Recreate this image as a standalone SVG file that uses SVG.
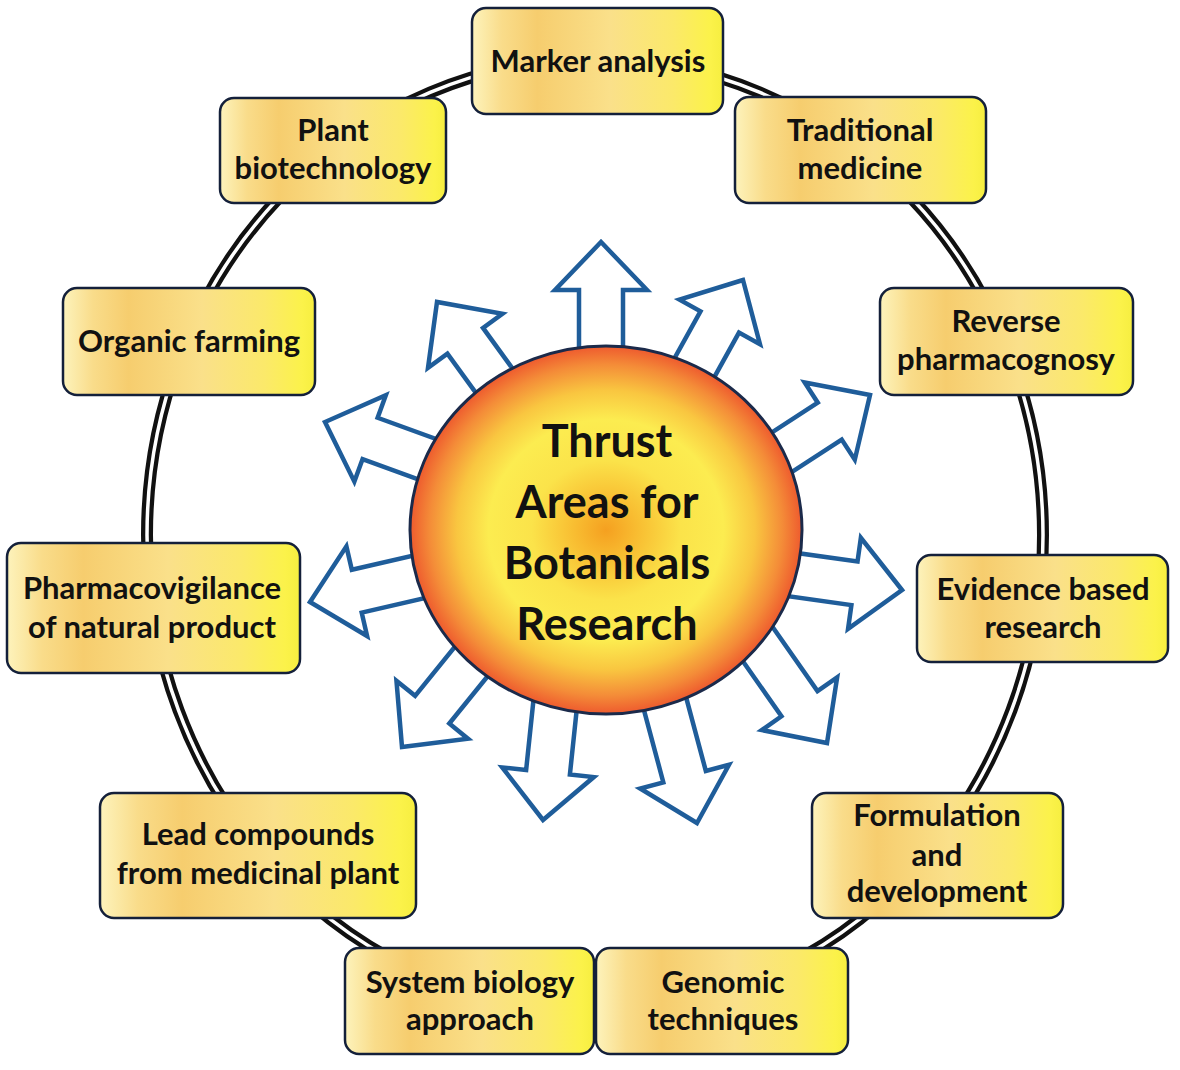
<svg xmlns="http://www.w3.org/2000/svg" xmlns:xlink="http://www.w3.org/1999/xlink" width="1180" height="1070" viewBox="0 0 1180 1070">
<style>
.box{fill:url(#boxg);stroke:#14203a;stroke-width:2.5}
.t{font-family:Lato,"Liberation Sans",sans-serif;font-weight:bold;font-size:31px;fill:#111;text-anchor:middle}
.c{font-family:Lato,"Liberation Sans",sans-serif;font-weight:bold;font-size:45px;fill:#111;text-anchor:middle}
.arr{fill:#fff;stroke:#1f5d9a;stroke-width:4.5;stroke-linejoin:miter}
.ringo{fill:none;stroke:#111;stroke-width:12}
.ringi{fill:none;stroke:#fff;stroke-width:3.5}
</style>
<defs>
<linearGradient id="boxg" x1="0" y1="0" x2="1" y2="0">
<stop offset="0" stop-color="#fdf3bc"/>
<stop offset="0.12" stop-color="#f9dc8a"/>
<stop offset="0.26" stop-color="#f6cd6e"/>
<stop offset="0.55" stop-color="#fae08a"/>
<stop offset="0.8" stop-color="#fbe96a"/>
<stop offset="0.95" stop-color="#fbf24a"/>
<stop offset="1" stop-color="#f6ee40"/>
</linearGradient>
<radialGradient id="sun" cx="0.5" cy="0.5" r="0.5">
<stop offset="0" stop-color="#f5a020"/>
<stop offset="0.15" stop-color="#f8bb30"/>
<stop offset="0.38" stop-color="#fbe34a"/>
<stop offset="0.6" stop-color="#fcec50"/>
<stop offset="0.76" stop-color="#f9c640"/>
<stop offset="0.9" stop-color="#f48c38"/>
<stop offset="1" stop-color="#ee5a2e"/>
</radialGradient>
<polygon id="arrow" class="arr" points="0,0 -48,-46 -48,-22 -200,-22 -200,22 -48,22 -48,46"/>
</defs>
<rect width="1180" height="1070" fill="#fff"/>
<g id="connectors">
<ellipse class="ringo" cx="595" cy="535" rx="448" ry="476"/>
<ellipse class="ringi" cx="595" cy="535" rx="448" ry="476"/>
</g>
<g id="arrows">
<use xlink:href="#arrow" href="#arrow" transform="translate(601 242) rotate(-90)"/>
<use xlink:href="#arrow" href="#arrow" transform="translate(437 302) rotate(-126)"/>
<use xlink:href="#arrow" href="#arrow" transform="translate(325 422) rotate(-160)"/>
<use xlink:href="#arrow" href="#arrow" transform="translate(310 602) rotate(167)"/>
<use xlink:href="#arrow" href="#arrow" transform="translate(402 747) rotate(129)"/>
<use xlink:href="#arrow" href="#arrow" transform="translate(543 820) rotate(96)"/>
<use xlink:href="#arrow" href="#arrow" transform="translate(697 823) rotate(75)"/>
<use xlink:href="#arrow" href="#arrow" transform="translate(827 743) rotate(55)"/>
<use xlink:href="#arrow" href="#arrow" transform="translate(902 590) rotate(8)"/>
<use xlink:href="#arrow" href="#arrow" transform="translate(870 395) rotate(-33)"/>
<use xlink:href="#arrow" href="#arrow" transform="translate(743 280) rotate(-61)"/>
</g>
<g id="center">
<ellipse cx="606" cy="530" rx="196" ry="184" fill="url(#sun)" stroke="#1b2a4a" stroke-width="3"/>
<text class="c" x="607" y="457">Thrust</text>
<text class="c" x="607" y="518">Areas for</text>
<text class="c" x="607" y="579">Botanicals</text>
<text class="c" x="607" y="640">Research</text>
</g>
<g id="marker-analysis">
<rect class="box" x="472" y="8" width="251" height="106" rx="14"/>
<text class="t" x="598" y="72">Marker analysis</text>
</g>
<g id="plant-biotechnology">
<rect class="box" x="220" y="98" width="226" height="105" rx="14"/>
<text class="t" x="333" y="141">Plant</text>
<text class="t" x="333" y="179">biotechnology</text>
</g>
<g id="traditional-medicine">
<rect class="box" x="735" y="97" width="251" height="106" rx="14"/>
<text class="t" x="860" y="141">Traditional</text>
<text class="t" x="860" y="179">medicine</text>
</g>
<g id="organic-farming">
<rect class="box" x="63" y="288" width="252" height="107" rx="14"/>
<text class="t" x="189" y="352">Organic farming</text>
</g>
<g id="reverse-pharmacognosy">
<rect class="box" x="880" y="288" width="253" height="107" rx="14"/>
<text class="t" x="1006" y="332">Reverse</text>
<text class="t" x="1006" y="370">pharmacognosy</text>
</g>
<g id="pharmacovigilance">
<rect class="box" x="7" y="543" width="293" height="130" rx="14"/>
<text class="t" x="152" y="599">Pharmacovigilance</text>
<text class="t" x="152" y="638">of natural product</text>
</g>
<g id="evidence-based-research">
<rect class="box" x="917" y="555" width="251" height="107" rx="14"/>
<text class="t" x="1043" y="600">Evidence based</text>
<text class="t" x="1043" y="638">research</text>
</g>
<g id="lead-compounds">
<rect class="box" x="100" y="793" width="316" height="125" rx="14"/>
<text class="t" x="258" y="845">Lead compounds</text>
<text class="t" x="258" y="884">from medicinal plant</text>
</g>
<g id="formulation-development">
<rect class="box" x="812" y="793" width="251" height="125" rx="14"/>
<text class="t" x="937" y="826">Formulation</text>
<text class="t" x="937" y="866">and</text>
<text class="t" x="937" y="902">development</text>
</g>
<g id="system-biology">
<rect class="box" x="345" y="948" width="249" height="106" rx="14"/>
<text class="t" x="470" y="993">System biology</text>
<text class="t" x="470" y="1030">approach</text>
</g>
<g id="genomic-techniques">
<rect class="box" x="596" y="948" width="252" height="106" rx="14"/>
<text class="t" x="723" y="993">Genomic</text>
<text class="t" x="723" y="1030">techniques</text>
</g>
</svg>
